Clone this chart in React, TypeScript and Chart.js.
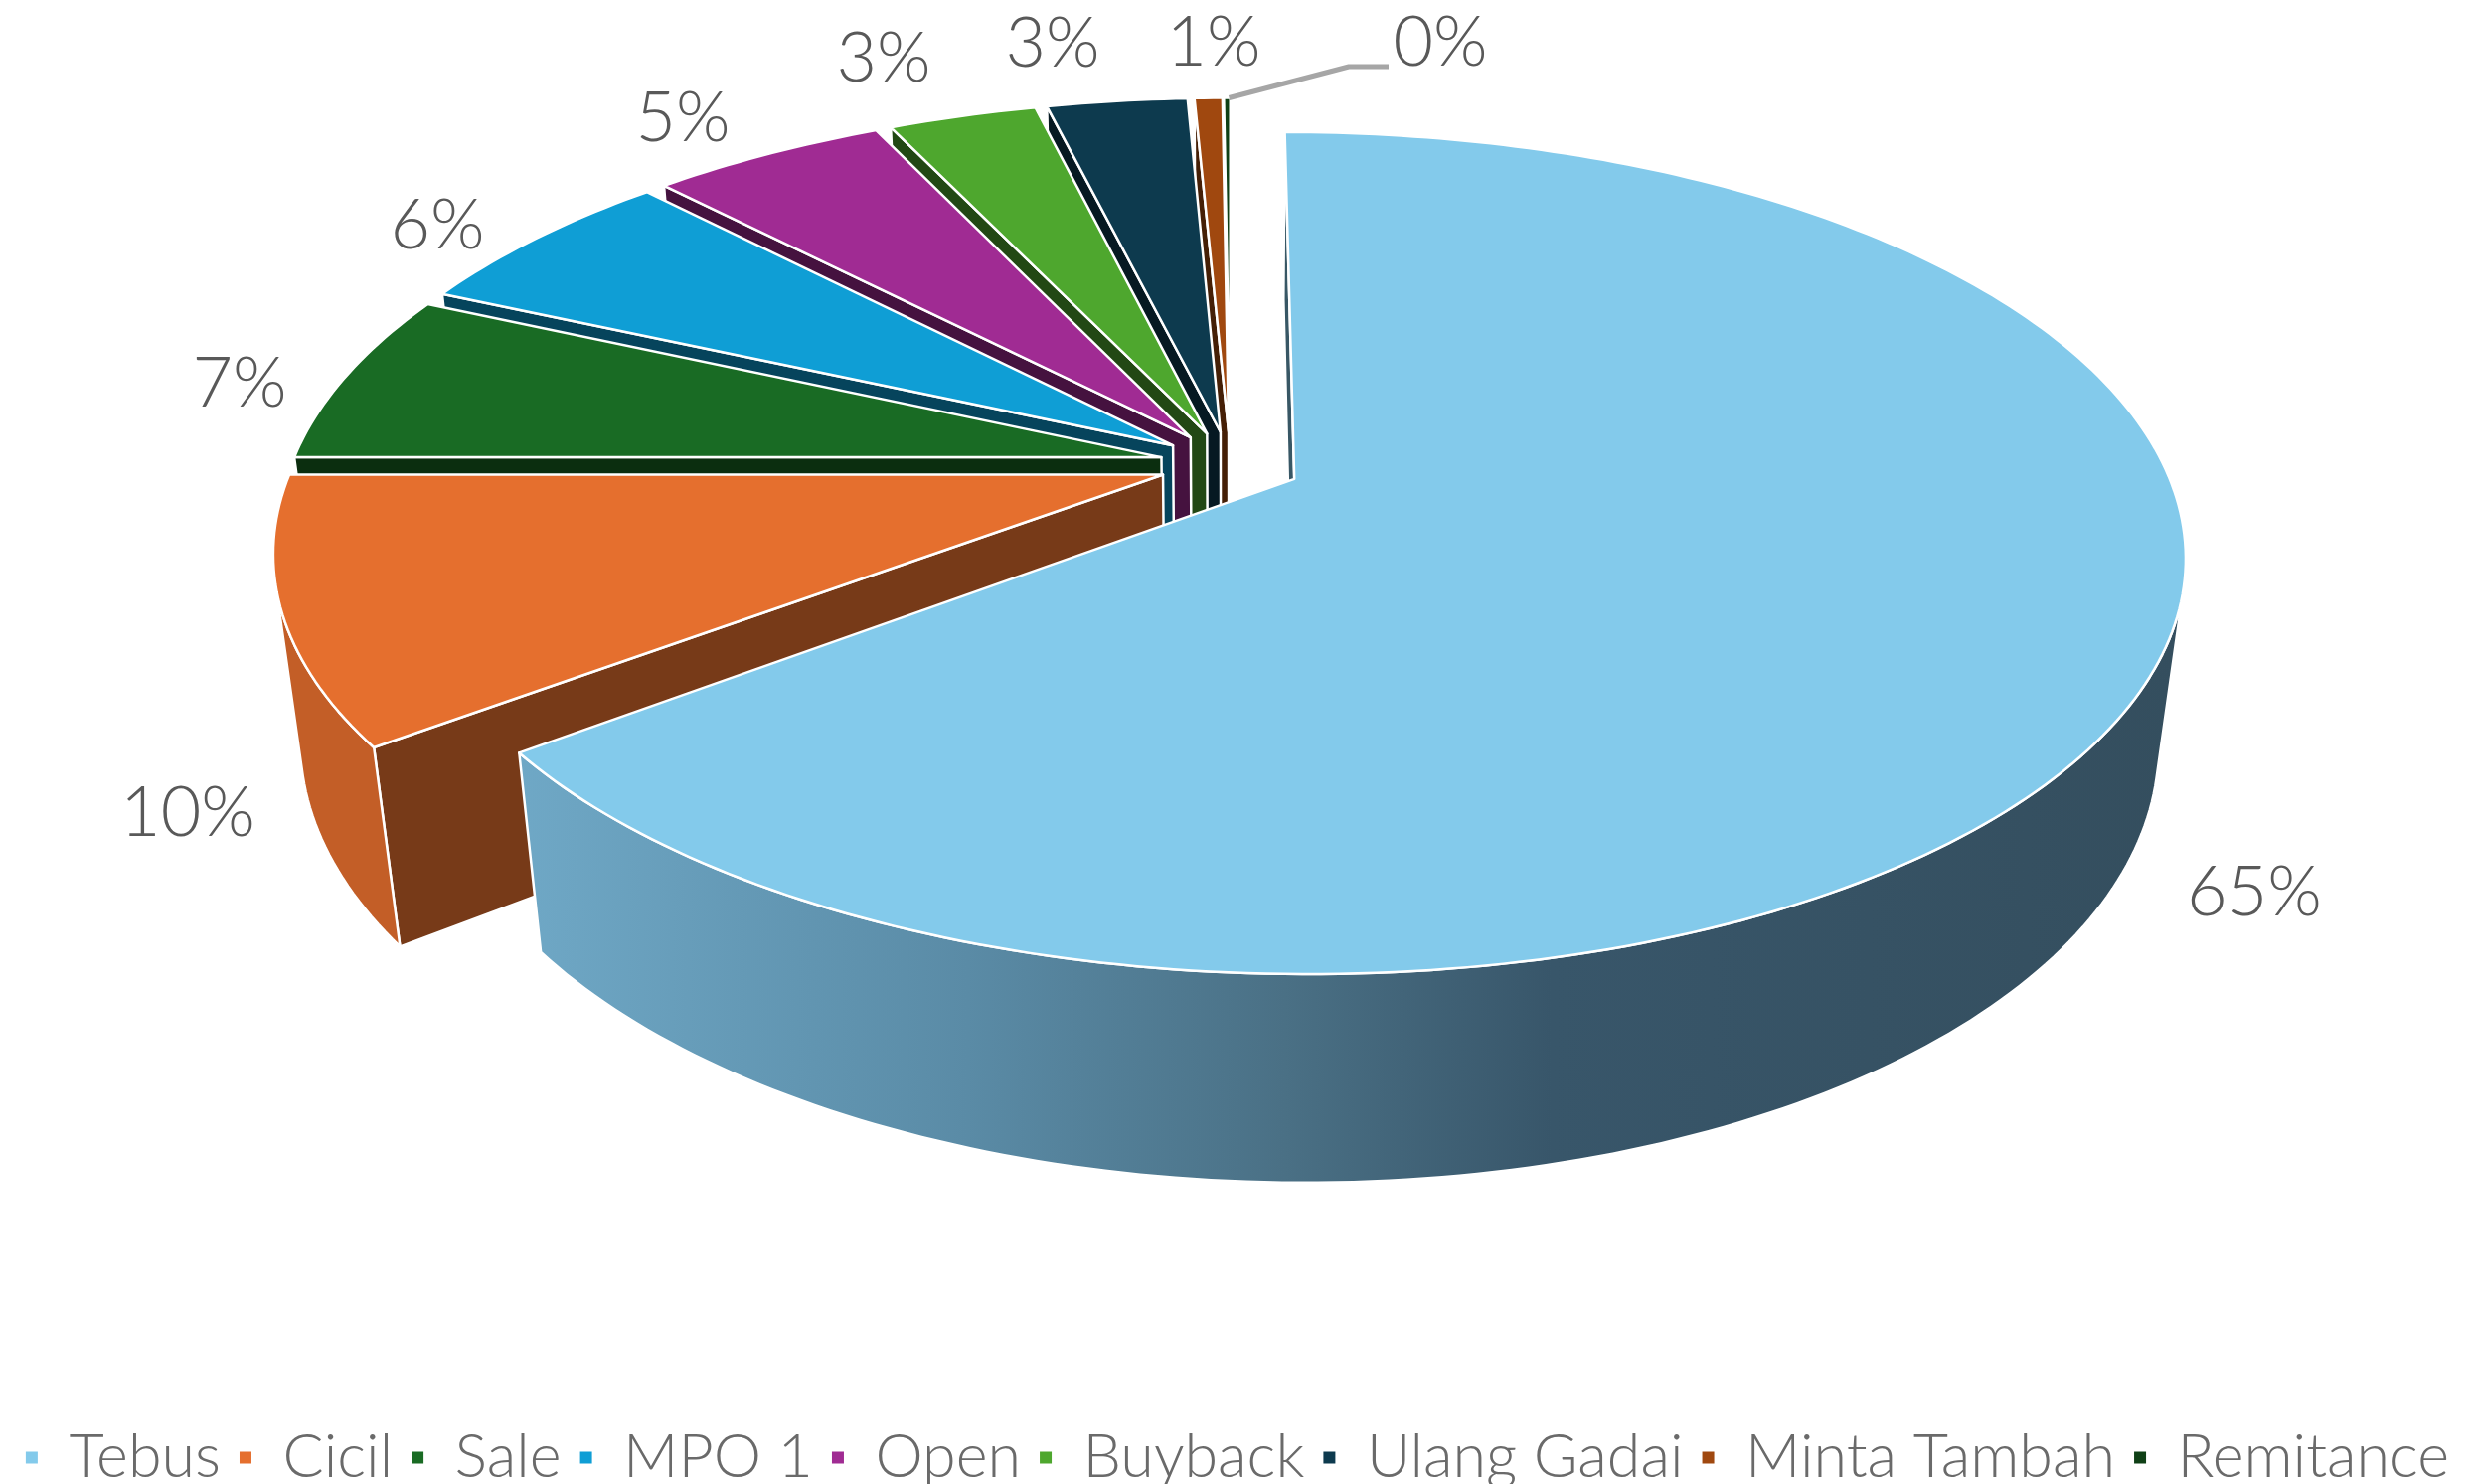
import React, { useEffect, useRef } from "react";
import { Chart, registerables } from "chart.js";

Chart.register(...registerables);

const categories = ["Tebus", "Cicil", "Sale", "MPO 1", "Open", "Buyback", "Ulang Gadai", "Minta Tambah", "Remitance"];
const seriesValues = [64.75, 10.25, 6.72, 6.06, 5.14, 3.25, 3.08, 0.61, 0.14];
const sliceColors = ["#83CAEB", "#E56F2E", "#196B24", "#0F9ED5", "#A02B93", "#4EA72E", "#0D3A4E", "#A0480F", "#0F4016"];

// Text centres of the percentage labels, in the order of the categories
const labelCentres = [
  [2268, 898], [189, 818], [241, 386], [440, 227], [687, 119], [889, 59], [1059, 44], [1221, 43], [1449, 43],
];

// Perspective projection of the pie disc (radius 1), depth d from 0 (top) to 1 (bottom)
const X0 = 1238, Y0 = 467, A = 875, B = 405.2, C = 192, P = 0.175, Q = 0.028, EXPLODE = 0.0815;
const project = (x: number, y: number, d: number): [number, number] => {
  const w = 1 + P * y + Q * d;
  return [X0 + (A * x) / w, Y0 + (-B * y + C * d) / w];
};
const shade = (hex: string, f: number) => {
  const n = parseInt(hex.slice(1), 16);
  const c = (v: number) => Math.round(v * f);
  return `rgb(${c((n >> 16) & 255)},${c((n >> 8) & 255)},${c(n & 255)})`;
};
const area = (pts: [number, number][]) => {
  let s = 0;
  pts.forEach((p, i) => {
    const q = pts[(i + 1) % pts.length];
    s += p[0] * q[1] - q[0] * p[1];
  });
  return s / 2;
};
const poly = (ctx: CanvasRenderingContext2D, pts: [number, number][], fill: any) => {
  ctx.beginPath();
  pts.forEach((p, i) => (i ? ctx.lineTo(p[0], p[1]) : ctx.moveTo(p[0], p[1])));
  ctx.closePath();
  ctx.fillStyle = fill;
  ctx.fill();
  ctx.strokeStyle = "#FFFFFF";
  ctx.lineWidth = 2.5;
  ctx.lineJoin = "round";
  ctx.stroke();
};

const pie3d = {
  id: "pie3d",
  beforeDatasetDraw(chart: any) {
    const ctx: CanvasRenderingContext2D = chart.ctx;
    const arcs = chart.getDatasetMeta(0).data;
    const colors = chart.data.datasets[0].backgroundColor;
    const geo = arcs.map((arc: any) => {
      const { startAngle, endAngle } = arc.getProps(["startAngle", "endAngle"], true);
      const s = startAngle + Math.PI / 2;
      const e = endAngle + Math.PI / 2;
      const m = (s + e) / 2;
      const ox = EXPLODE * Math.sin(m);
      const oy = EXPLODE * Math.cos(m);
      return {
        s, e, m, ox, oy,
        rim: (t: number, d: number) => project(ox + Math.sin(t), oy + Math.cos(t), d),
        apex: (d: number) => project(ox, oy, d),
      };
    });
    ctx.save();
    for (let i = arcs.length - 1; i >= 0; i--) {
      const g = geo[i];
      const col = colors[i];
      const dark = shade(col, i === 1 ? 0.52 : 0.43);
      // radial walls
      const sw: [number, number][] = [g.apex(0), g.rim(g.s, 0), g.rim(g.s, 1), g.apex(1)];
      if (area(sw) < 0) poly(ctx, sw, dark);
      const ew: [number, number][] = [g.apex(0), g.rim(g.e, 0), g.rim(g.e, 1), g.apex(1)];
      if (area(ew) > 0) poly(ctx, ew, dark);
      // outer wall: only the part that faces the viewer
      const n = Math.max(2, Math.ceil(((g.e - g.s) * 180) / Math.PI));
      let run: number[] = [];
      const flush = () => {
        if (run.length > 1) {
          const top = run.map((t) => g.rim(t, 0));
          const bot = run.map((t) => g.rim(t, 1)).reverse();
          let fill: any = shade(col, 0.85);
          if (i === 0) {
            const gr = ctx.createLinearGradient(520, 0, 2199, 0);
            gr.addColorStop(0, "#6FA8C6");
            gr.addColorStop(0.27, "#5A8BA6");
            gr.addColorStop(0.46, "#4A7085");
            gr.addColorStop(0.62, "#38566A");
            gr.addColorStop(1, "#344E5E");
            fill = gr;
          }
          poly(ctx, [...top, ...bot], fill);
        }
        run = [];
      };
      for (let k = 0; k < n; k++) {
        const t1 = g.s + ((g.e - g.s) * k) / n;
        const t2 = g.s + ((g.e - g.s) * (k + 1)) / n;
        const q: [number, number][] = [g.rim(t1, 0), g.rim(t2, 0), g.rim(t2, 1), g.rim(t1, 1)];
        if (area(q) < 0) {
          if (!run.length) run.push(t1);
          run.push(t2);
        } else flush();
      }
      flush();
      // top face
      const pts: [number, number][] = [g.apex(0)];
      for (let k = 0; k <= n; k++) pts.push(g.rim(g.s + ((g.e - g.s) * k) / n, 0));
      poly(ctx, pts, col);
    }
    // leader line of the last label
    const last = geo[geo.length - 1];
    const tip = last.rim(last.m, 0);
    ctx.beginPath();
    ctx.moveTo(tip[0] + 2, tip[1]);
    ctx.lineTo(1357, 67);
    ctx.lineTo(1397, 67);
    ctx.strokeStyle = "#A6A6A6";
    ctx.lineWidth = 5;
    ctx.stroke();
    // percentage labels
    const values: number[] = chart.data.datasets[0].data;
    const total = values.reduce((a, b) => a + b, 0);
    ctx.font = '300 70px Lato, "Open Sans", sans-serif';
    ctx.fillStyle = "#595959";
    ctx.textAlign = "center";
    ctx.textBaseline = "middle";
    values.forEach((v, i) => {
      ctx.fillText(`${Math.round((v / total) * 100)}%`, labelCentres[i][0], labelCentres[i][1]);
    });
    ctx.restore();
    return false;
  },
};

export default function App() {
  const ref = useRef<HTMLCanvasElement>(null);
  useEffect(() => {
    document.documentElement.style.overflow = "hidden";
    document.body.style.margin = "0";
    const chart = new Chart(ref.current as HTMLCanvasElement, {
      type: "pie",
      data: {
        labels: categories,
        datasets: [{ data: seriesValues, backgroundColor: sliceColors, borderColor: "#FFFFFF", borderWidth: 2 }],
      },
      options: {
        animation: false,
        responsive: false,
        devicePixelRatio: 1,
        layout: { padding: { bottom: -14 } },
        plugins: {
          tooltip: { enabled: false },
          legend: {
            position: "bottom",
            labels: {
              boxWidth: 14,
              boxHeight: 14,
              padding: 18,
              color: "#6A6A6A",
              font: { family: "Lato", size: 61, weight: "300" },
            },
          },
        },
      },
      plugins: [pie3d],
    } as any);
    return () => chart.destroy();
  }, []);
  return <canvas ref={ref} width={2489} height={1493} style={{ display: "block", width: 2489, height: 1493 }} />;
}
